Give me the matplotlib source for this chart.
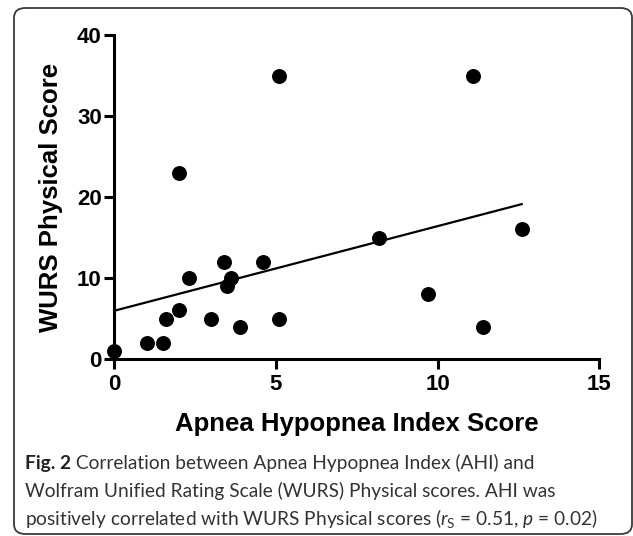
import matplotlib
matplotlib.use("Agg")
import matplotlib.pyplot as plt
import numpy as np
from matplotlib.patches import FancyBboxPatch

# AHI score vs WURS physical score
ahi = [0, 1.0, 1.5, 1.6, 2.0, 2.0, 2.3, 3.0, 3.4, 3.5, 3.6, 3.9, 4.6, 5.1, 5.1, 8.2, 9.7, 11.1, 11.4, 12.6]
wurs = [1, 2, 2, 5, 6, 23, 10, 5, 12, 9, 10, 4, 12, 35, 5, 15, 8, 35, 4, 16]
x_ticks = [0, 5, 10, 15]
y_ticks = [0, 10, 20, 30, 40]

fig_label = "Fig. 2"
caption_lines = [
    " Correlation between Apnea Hypopnea Index (AHI) and",
    "Wolfram Unified Rating Scale (WURS) Physical scores. AHI was",
    r"positively correlated with WURS Physical scores ($\mathit{r}_\mathrm{S}$ = 0.51, $\mathit{p}$ = 0.02)",
]

cap_font = "Lato"
plt.rcParams["mathtext.fontset"] = "custom"
plt.rcParams["mathtext.rm"] = cap_font
plt.rcParams["mathtext.it"] = cap_font + ":italic"
plt.rcParams["mathtext.bf"] = cap_font + ":bold"

W, H = 633, 536
fig = plt.figure(figsize=(W / 100, H / 100), dpi=100)

# rounded frame around figure + caption
frame = FancyBboxPatch((14 / W, 1 - 534 / H), (632 - 14) / W, (534 - 8) / H,
                       boxstyle="round,pad=0,rounding_size=0.018",
                       transform=fig.transFigure, fill=False,
                       edgecolor="#3a3a3a", linewidth=1.3)
fig.patches.append(frame)

ax = fig.add_axes([114.3 / W, 1 - 359 / H, (599.3 - 114.3) / W, (359 - 35) / H])
ax.scatter(ahi, wurs, s=95, color="black", zorder=3, clip_on=False)

# linear fit drawn over the data range
slope, icept = np.polyfit(ahi, wurs, 1)
xf = np.array([0, max(ahi)])
ax.plot(xf, icept + slope * xf, color="black", linewidth=1.6)

ax.set_xlim(0, 15)
ax.set_ylim(0, 40)
ax.set_xticks(x_ticks)
ax.set_yticks(y_ticks)
for s in ["top", "right"]:
    ax.spines[s].set_visible(False)
for s in ["left", "bottom"]:
    ax.spines[s].set_linewidth(2.2)
ax.tick_params(width=2.2, length=7, direction="out", labelsize=16, colors="black")
ax.tick_params(axis="y", pad=2)
ax.tick_params(axis="x", pad=4)
for lab in ax.get_xticklabels() + ax.get_yticklabels():
    lab.set_fontfamily("Liberation Sans")
    lab.set_fontweight("bold")

ax.set_xlabel("Apnea Hypopnea Index Score", fontsize=18.5, fontweight="bold",
              family="Liberation Sans", labelpad=12)
ax.set_ylabel("WURS Physical Score", fontsize=18.5, fontweight="bold",
              family="Liberation Sans", labelpad=10)

# caption: size chosen so the last line ends where the reference does
cap_x0, cap_x1 = 25, 598
caption_y = [463, 491, 519]
renderer = fig.canvas.get_renderer()
probe = fig.text(0, 0, caption_lines[2], fontsize=14, family=cap_font)
w = probe.get_window_extent(renderer).width
probe.remove()
cap_size = 14 * (cap_x1 - cap_x0) / w

texts = []
for i, (txt, yy) in enumerate(zip(caption_lines, caption_y)):
    x0 = cap_x0
    if i == 0:
        t = fig.text(cap_x0 / W, 1 - yy / H, fig_label, fontsize=cap_size,
                     family=cap_font, fontweight="bold", color="#222222",
                     va="center", ha="left")
        x0 = t.get_window_extent(renderer).x1
    fig.text(x0 / W, 1 - yy / H, txt, fontsize=cap_size, family=cap_font,
             color="#333333", va="center", ha="left")

fig.savefig("out.png", dpi=100)
